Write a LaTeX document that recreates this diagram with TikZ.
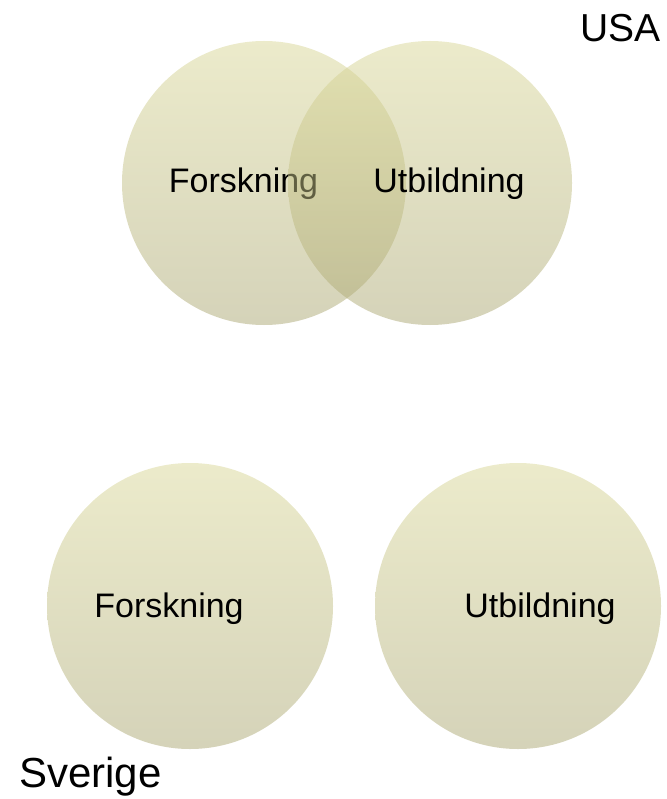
\documentclass[tikz,border=0pt]{standalone}
\usepackage{fontspec}
\setmainfont{Liberation Sans}
\definecolor{ventop}{RGB}{217,215,151}
\definecolor{venbot}{RGB}{171,167,115}
\begin{document}
\begin{tikzpicture}[x=1pt,y=-1pt,
  venn/.style={top color=ventop, bottom color=venbot, fill opacity=0.5, draw=none},
  lbl/.style={font=\fontsize{34}{40}\selectfont, inner sep=0pt, anchor=base}]
\useasboundingbox (0,0) rectangle (666,799);

% USA
\shade[venn] (264,183) circle (142);
\node[lbl] (fusa) at (243.5,193) {Forskning};
\shade[venn] (430,183) circle (142);
\node[lbl] (uusa) at (449,193) {Utbildning};
\node[lbl, font=\fontsize{39}{45}\selectfont, anchor=base east] (usa) at (661,42) {USA};

% Sverige
\shade[venn] (190,606) circle (143);
\node[lbl] (fsve) at (169,617) {Forskning};
\shade[venn] (518,606) circle (143);
\node[lbl] (usve) at (540,617) {Utbildning};
\node[lbl, font=\fontsize{42}{48}\selectfont, anchor=base west] (sve) at (19,787) {Sverige};
\end{tikzpicture}
\end{document}
